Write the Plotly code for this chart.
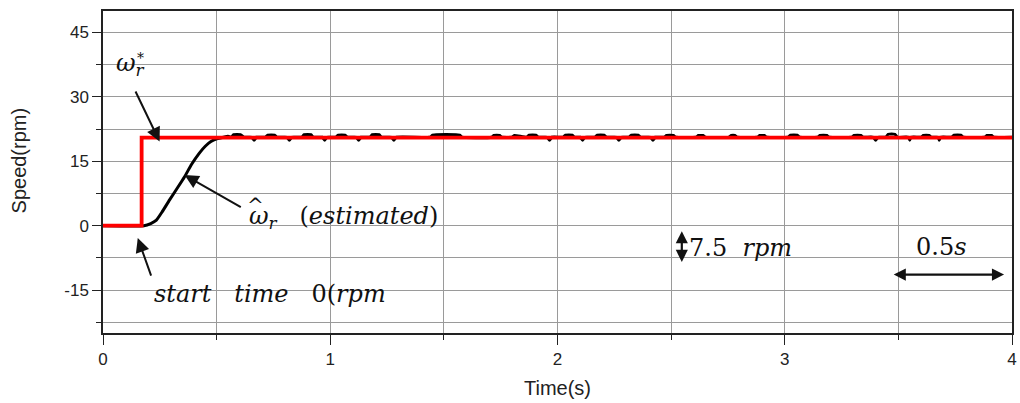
import plotly.graph_objects as go

# Reference (commanded) speed
t_ref = [0.0, 0.17, 0.17, 4.0]
w_ref = [0.0, 0.0, 20.5, 20.5]

# Estimated speed: rise, then small ripple blobs around the reference
t_est = [0.0, 0.18, 0.21, 0.235, 0.26, 0.293, 0.33, 0.359, 0.39, 0.424, 0.45, 0.475, 0.50, 0.53, 0.55,
         0.565, 0.575, 0.605, 0.62, 0.655, 0.665, 0.675, 0.715, 0.725, 0.755, 0.765, 0.81, 0.82, 0.83,
         0.875, 0.885, 0.915, 0.925, 0.965, 0.976, 0.985, 1.025, 1.035, 1.065, 1.075, 1.115, 1.125,
         1.135, 1.175, 1.185, 1.215, 1.225, 1.27, 1.28, 1.29, 1.44, 1.45, 1.57, 1.58, 1.71, 1.72,
         1.745, 1.755, 1.80, 1.81, 1.865, 1.875, 1.905, 1.915, 1.955, 1.965, 1.975, 2.025, 2.035,
         2.065, 2.075, 2.10, 2.11, 2.12, 2.165, 2.175, 2.205, 2.215, 2.26, 2.27, 2.28, 2.315, 2.325,
         2.355, 2.365, 2.41, 2.42, 2.43, 2.47, 2.48, 2.51, 2.52, 2.61, 2.62, 2.64, 2.65, 2.755,
         2.765, 2.78, 2.79, 2.88, 2.89, 2.91, 2.92, 3.015, 3.025, 3.055, 3.065, 3.145, 3.155, 3.185,
         3.195, 3.295, 3.305, 3.335, 3.345, 3.39, 3.40, 3.41, 3.445, 3.455, 3.485, 3.495, 3.545,
         3.55, 3.555, 3.60, 3.61, 3.635, 3.645, 3.675, 3.68, 3.685, 3.735, 3.745, 3.775, 3.785,
         3.88, 3.89, 3.91, 3.92, 4.0]
w_est = [0.0, 0.0, 0.5, 1.3, 3.2, 6.0, 9.0, 11.4, 14.3, 16.9, 18.5, 19.6, 20.2, 20.6, 20.8,
         20.6, 21.2, 21.2, 20.6, 20.6, 19.9, 20.6, 20.6, 21.1, 21.1, 20.6, 20.6, 19.9, 20.6,
         20.6, 21.2, 21.2, 20.6, 20.6, 19.9, 20.6, 20.6, 21.1, 21.1, 20.6, 20.6, 19.9,
         20.6, 20.6, 21.2, 21.2, 20.6, 20.6, 19.9, 20.6, 20.6, 21.1, 21.1, 20.6, 20.6, 21.0,
         21.0, 20.6, 20.6, 21.0, 20.6, 21.1, 21.1, 20.6, 20.6, 19.9, 20.6, 20.6, 21.1,
         21.1, 20.6, 20.6, 19.9, 20.6, 20.6, 21.1, 21.1, 20.6, 20.6, 19.9, 20.6, 20.6, 21.1,
         21.1, 20.6, 20.6, 19.9, 20.6, 20.6, 21.0, 21.0, 20.6, 20.6, 21.0, 21.0, 20.6, 20.6,
         21.0, 21.0, 20.6, 20.6, 21.0, 21.0, 20.6, 20.6, 21.1, 21.1, 20.6, 20.6, 21.0, 21.0,
         20.6, 20.6, 21.0, 21.0, 20.6, 20.6, 19.9, 20.6, 20.6, 21.3, 21.3, 20.6, 20.6,
         19.9, 20.6, 20.6, 21.0, 21.0, 20.6, 20.6, 19.9, 20.6, 20.6, 21.1, 21.1, 20.6,
         20.6, 21.0, 21.0, 20.6, 20.6]

x_ticks = [0, 1, 2, 3, 4]
x_labels = ["0", "1", "2", "3", "4"]
y_ticks = [-15, 0, 15, 30, 45]
y_labels = ["-15", "0", "15", "30", "45"]

fig = go.Figure()
fig.add_trace(go.Scatter(x=t_est, y=w_est, mode="lines", line_shape="spline",
                         line=dict(color="black", width=3, smoothing=0.4), showlegend=False))
fig.add_trace(go.Scatter(x=t_ref, y=w_ref, mode="lines",
                         line=dict(color="#ff0000", width=3.8), showlegend=False))

sans = "Liberation Sans, Arial, sans-serif"
tickfont = dict(family=sans, size=17, color="#222")
fig.update_xaxes(range=[0, 4], tickvals=x_ticks, ticktext=x_labels, ticks="outside", ticklen=10,
                 tickwidth=1.3, tickcolor="#222", showline=True, linecolor="#222", linewidth=1.5,
                 mirror=True, showgrid=True, gridcolor="#9a9a9a", gridwidth=1.3, zeroline=False,
                 tickfont=tickfont,
                 minor=dict(dtick=0.5, tick0=0, ticks="outside", ticklen=5, tickwidth=1.3,
                            tickcolor="#222", showgrid=True, gridcolor="#9a9a9a", gridwidth=1.3))
fig.update_yaxes(range=[-25, 50], tickvals=y_ticks, ticktext=y_labels, ticks="outside", ticklen=9,
                 tickwidth=1.3, tickcolor="#222", showline=True, linecolor="#222", linewidth=1.5,
                 mirror=True, showgrid=True, gridcolor="#9a9a9a", gridwidth=1.3, zeroline=False,
                 tickfont=tickfont,
                 minor=dict(dtick=7.5, tick0=0, ticks="outside", ticklen=5, tickwidth=1.3,
                            tickcolor="#222", showgrid=True, gridcolor="#9a9a9a", gridwidth=1.3))

serif = "DejaVu Serif, serif"
af = dict(family=serif, size=24, color="#111")
arr = dict(showarrow=True, arrowhead=2, arrowsize=1.4, arrowwidth=2, arrowcolor="#111",
           xref="x", yref="y", axref="x", ayref="y", text="")
anns = [
    # omega_r^*
    dict(x=0.122, y=33.4, xref="x", yref="y", text="<i>ω<sub>r</sub></i>", showarrow=False,
         xanchor="center", yanchor="bottom", font=af),
    dict(x=0.165, y=36.8, xref="x", yref="y", text="*", showarrow=False,
         xanchor="center", yanchor="bottom", font=dict(family=serif, size=14, color="#111")),
    dict(x=0.249, y=19.6, ax=0.140, ay=31.6, **arr),
    # estimated
    dict(x=0.635, y=2.0, xref="x", yref="y", text="<i>ω<sub>r</sub></i>   (<i>estimated</i>)",
         showarrow=False, xanchor="left", yanchor="middle", font=af),
    dict(x=0.673, y=4.8, xref="x", yref="y", text="^", showarrow=False,
         xanchor="center", yanchor="middle", font=dict(family=serif, size=20, color="#111")),
    dict(x=0.359, y=11.8, ax=0.613, ay=4.1, **arr),
    # start time
    dict(x=0.214, y=-16.0, xref="x", yref="y", text="<i>start   time</i>   0(<i>rpm</i>",
         showarrow=False, xanchor="left", yanchor="middle", font=af),
    dict(x=0.153, y=-2.9, ax=0.214, ay=-12.0, **arr),
    # 7.5 rpm scale
    dict(x=2.547, y=-1.3, ax=2.547, ay=-8.8, xref="x", yref="y", axref="x", ayref="y",
         text="", showarrow=True, arrowhead=2, startarrowhead=2, arrowside="end+start",
         arrowsize=1.1, startarrowsize=1.1, arrowwidth=2.2, arrowcolor="#111"),
    dict(x=2.57, y=-5.1, xref="x", yref="y", text="7.5  <i>rpm</i>", showarrow=False,
         xanchor="left", yanchor="middle", font=af),
    # 0.5 s scale
    dict(x=3.69, y=-4.9, xref="x", yref="y", text="0.5<i>s</i>", showarrow=False,
         xanchor="center", yanchor="middle", font=af),
    dict(x=3.965, y=-11.4, ax=3.473, ay=-11.4, xref="x", yref="y", axref="x", ayref="y",
         text="", showarrow=True, arrowhead=2, startarrowhead=2, arrowside="end+start",
         arrowsize=1.1, startarrowsize=1.1, arrowwidth=2.2, arrowcolor="#111"),
    # axis titles
    dict(x=19, y=160, xref="paper", yref="paper", text="Speed(rpm)", showarrow=False,
         textangle=-90, font=dict(family=sans, size=20, color="#222")),
    dict(x=560, y=388, xref="paper", yref="paper", text="Time(s)", showarrow=False,
         font=dict(family=sans, size=20, color="#222")),
]

# convert paper annotations given in pixels
pl, pr, pt, pb = 103, 3, 11, 70
W, H = 1020, 403
pw, ph = W - pl - pr, H - pt - pb
for a in anns:
    if a.get("xref") == "paper":
        a["x"] = (a["x"] - pl) / pw
        a["y"] = 1 - (a["y"] - pt) / ph
        a["xanchor"] = "center"
        a["yanchor"] = "middle"

fig.update_layout(width=W, height=H, margin=dict(l=pl, r=pr, t=pt, b=pb),
                  paper_bgcolor="white", plot_bgcolor="white", annotations=anns)
fig.write_html("out.html")
